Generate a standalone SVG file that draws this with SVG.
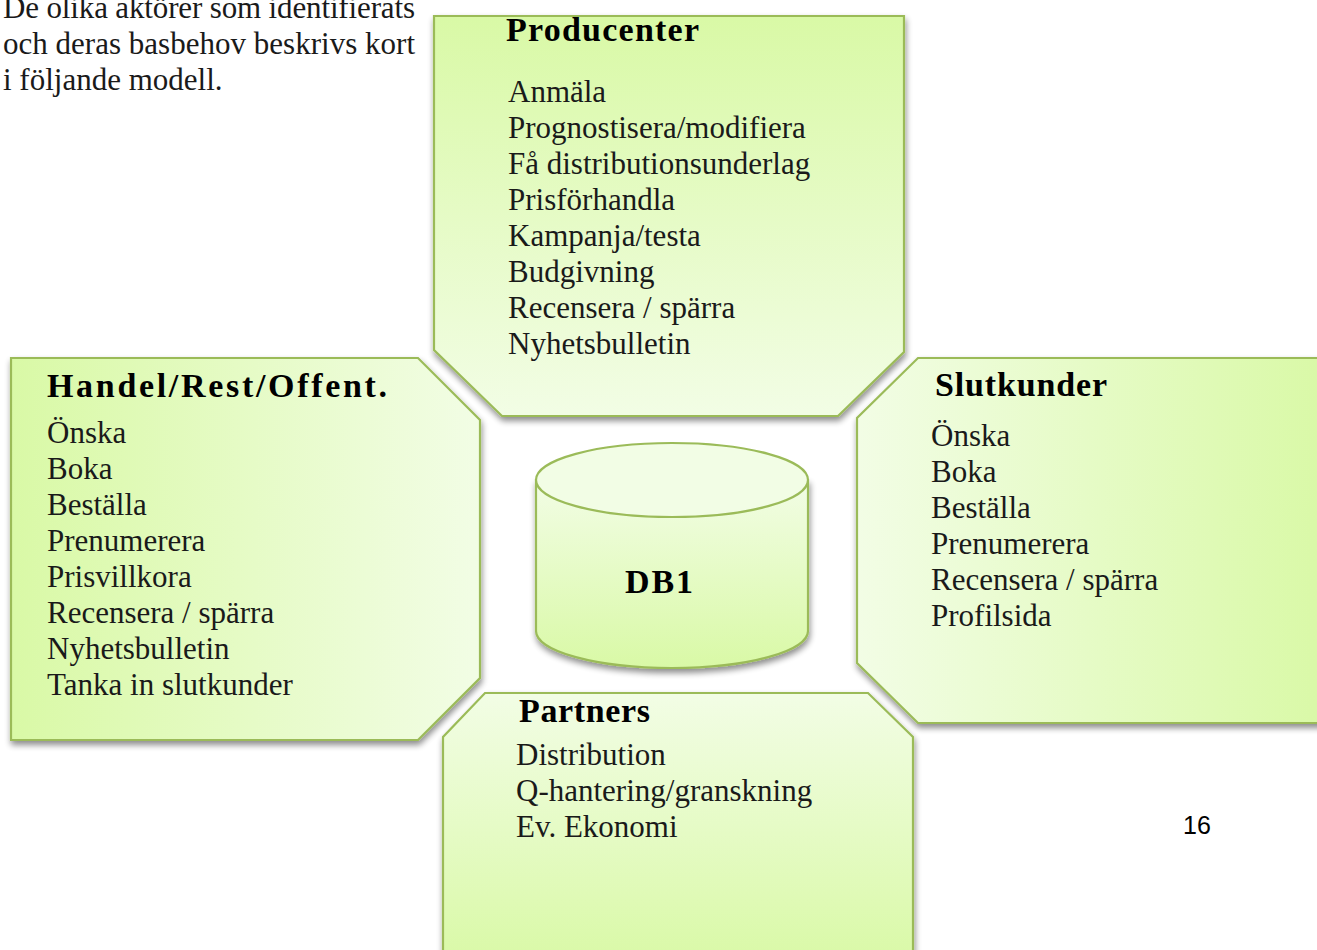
<svg xmlns="http://www.w3.org/2000/svg" width="1317" height="950" viewBox="0 0 1317 950">
<defs>
<linearGradient id="gV" x1="0" y1="0" x2="0" y2="1"><stop offset="0" stop-color="#d9f9a6"/><stop offset="1" stop-color="#f2fde5"/></linearGradient>
<linearGradient id="gVr" x1="0" y1="0" x2="0" y2="1"><stop offset="0" stop-color="#f2fde5"/><stop offset="1" stop-color="#d9f9a6"/></linearGradient>
<linearGradient id="gH" x1="0" y1="0" x2="1" y2="0"><stop offset="0" stop-color="#d9f9a6"/><stop offset="1" stop-color="#f2fde5"/></linearGradient>
<linearGradient id="gHr" x1="0" y1="0" x2="1" y2="0"><stop offset="0" stop-color="#f2fde5"/><stop offset="1" stop-color="#d9f9a6"/></linearGradient>
<filter id="sh" x="-10%" y="-10%" width="120%" height="125%">
<feGaussianBlur in="SourceAlpha" stdDeviation="3"/>
<feOffset dx="1" dy="4" result="b"/>
<feComponentTransfer><feFuncA type="linear" slope="0.45"/></feComponentTransfer>
<feMerge><feMergeNode/><feMergeNode in="SourceGraphic"/></feMerge>
</filter>
</defs>
<style>
.box{stroke:#9bbb59;stroke-width:2.2;filter:url(#sh)}
.t{font-family:"Liberation Serif","Times New Roman",serif;font-size:31px;fill:#1a1a1a}
.h{font-family:"Liberation Serif","Times New Roman",serif;font-size:34px;font-weight:bold;fill:#000}
.pg{font-family:"Liberation Sans",Arial,sans-serif;font-size:25px;fill:#000}
</style>
<g id="intro">
<text class="t" x="3" y="18" textLength="412">De olika aktörer som identifierats</text>
<text class="t" x="3" y="54" textLength="412">och deras basbehov beskrivs kort</text>
<text class="t" x="3" y="90">i följande modell.</text>
</g>
<g id="connectors"></g>
<g id="producenter">
<polygon class="box" fill="url(#gV)" points="434,16 904,16 904,352 838,416 502,416 434,350"/>
<text class="h" x="506" y="41" textLength="193">Producenter</text>
<text class="t" x="508" y="102">Anmäla</text>
<text class="t" x="508" y="138">Prognostisera/modifiera</text>
<text class="t" x="508" y="174">Få distributionsunderlag</text>
<text class="t" x="508" y="210">Prisförhandla</text>
<text class="t" x="508" y="246">Kampanja/testa</text>
<text class="t" x="508" y="282">Budgivning</text>
<text class="t" x="508" y="318">Recensera / spärra</text>
<text class="t" x="508" y="354">Nyhetsbulletin</text>
</g>
<g id="handel">
<polygon class="box" fill="url(#gH)" points="11,358 418,358 480,420 480,678 418,740 11,740"/>
<text class="h" x="47" y="397" textLength="340">Handel/Rest/Offent.</text>
<text class="t" x="47" y="443">Önska</text>
<text class="t" x="47" y="479">Boka</text>
<text class="t" x="47" y="515">Beställa</text>
<text class="t" x="47" y="551">Prenumerera</text>
<text class="t" x="47" y="587">Prisvillkora</text>
<text class="t" x="47" y="623">Recensera / spärra</text>
<text class="t" x="47" y="659">Nyhetsbulletin</text>
<text class="t" x="47" y="695">Tanka in slutkunder</text>
</g>
<g id="slutkunder">
<polygon class="box" fill="url(#gHr)" points="918,358 1330,358 1330,723 918,723 857,663 857,418"/>
<text class="h" x="935" y="396" textLength="172">Slutkunder</text>
<text class="t" x="931" y="446">Önska</text>
<text class="t" x="931" y="482">Boka</text>
<text class="t" x="931" y="518">Beställa</text>
<text class="t" x="931" y="554">Prenumerera</text>
<text class="t" x="931" y="590">Recensera / spärra</text>
<text class="t" x="931" y="626">Profilsida</text>
</g>
<g id="partners">
<polygon class="box" fill="url(#gVr)" points="485,693 868,693 913,737 913,965 443,965 443,737"/>
<text class="h" x="519" y="722" textLength="131">Partners</text>
<text class="t" x="516" y="765">Distribution</text>
<text class="t" x="516" y="801">Q-hantering/granskning</text>
<text class="t" x="516" y="837">Ev. Ekonomi</text>
</g>
<g id="db1">
<path class="box" fill="url(#gVr)" d="M536,480 L536,631 A136,37 0 0 0 808,631 L808,480 Z"/>
<ellipse cx="672" cy="480" rx="136" ry="37" fill="#f2fde5" stroke="#9bbb59" stroke-width="2.2"/>
<text class="h" x="625" y="593" textLength="68">DB1</text>
</g>
<g id="page">
<text class="pg" x="1183" y="834">16</text>
</g>
</svg>
